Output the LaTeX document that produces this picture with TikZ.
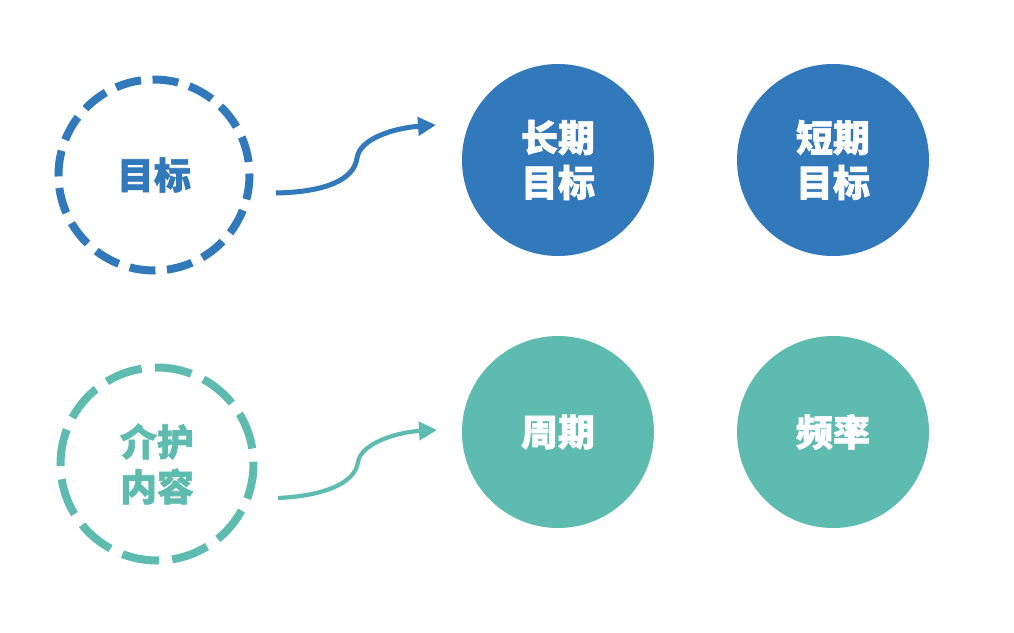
\documentclass[tikz,border=0pt]{standalone}
\usepackage{fontspec}
\newfontfamily\cjk{Noto Sans CJK SC}[BoldFeatures={FakeBold=1.6}]
\usetikzlibrary{arrows.meta}
\definecolor{cblue}{HTML}{3179BA}
\definecolor{cteal}{HTML}{5EBBAF}
\begin{document}
\begin{tikzpicture}[x=1pt,y=-1pt,
  lbl/.style={font=\cjk\bfseries\fontsize{37}{45}\selectfont, align=center},
  dcirc/.style={circle, draw=#1, text=#1, line width=8pt, inner sep=0pt, lbl},
  fcirc/.style={circle, fill=#1, text=white, minimum size=192pt, inner sep=0pt, lbl},
  flow/.style={draw=#1, line cap=butt, -{Triangle[length=18pt,width=18pt]}}
]
\useasboundingbox (0,0) rectangle (1014,632);

% dashed source circles
\node[dcirc=cblue, minimum size=191pt, dash pattern=on 26pt off 11.5pt, dash phase=24.5pt] (goal) at (154,175) {目标};
\node[dcirc=cteal, minimum size=193pt, dash pattern=on 37.3pt off 13.2pt, dash phase=35pt] (care) at (157,464) {介护\\内容};

% filled circles
\node[fcirc=cblue] (long) at (558,160) {长期\\目标};
\node[fcirc=cblue] (short) at (833,160) {短期\\目标};
\node[fcirc=cteal] (cycle) at (558,432) {周期};
\node[fcirc=cteal] (freq) at (833,432) {频率};

% arrows
\coordinate (a1s) at (276,193);
\coordinate (a1m) at (357,158);
\coordinate (a1e) at (436,125);
\draw[flow=cblue, line width=5pt] (a1s) .. controls (325,192) and (354,180) .. (a1m)
   .. controls (360,138) and (395,128) .. (a1e);

\coordinate (a2s) at (278,498);
\coordinate (a2m) at (358,462);
\coordinate (a2e) at (437,430);
\draw[flow=cteal, line width=4.2pt] (a2s) .. controls (322,496) and (355,484) .. (a2m)
   .. controls (361,443) and (398,432) .. (a2e);
\end{tikzpicture}
\end{document}
